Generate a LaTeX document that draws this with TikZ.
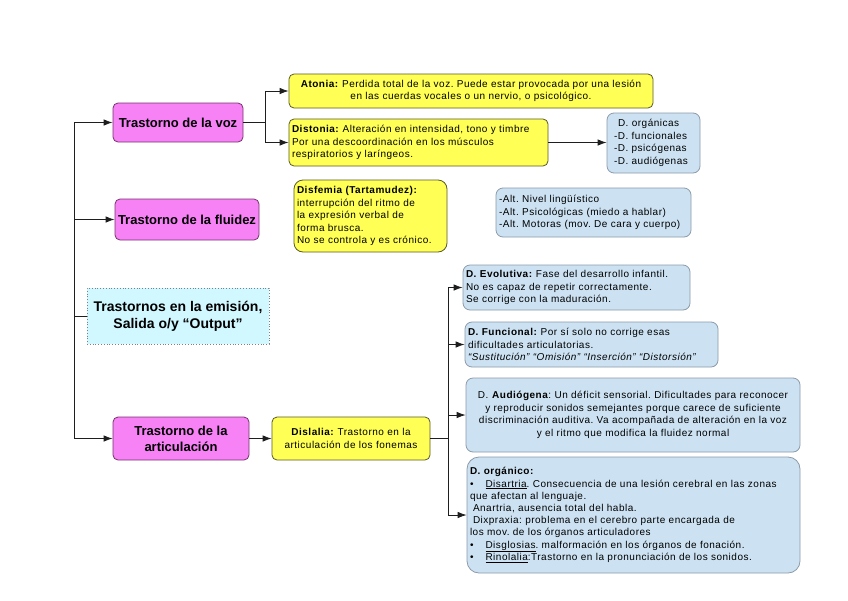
\documentclass[tikz,border=0pt]{standalone}
\usepackage{fontspec}
\setmainfont{Liberation Sans}
\newfontfamily\bodyfont[LetterSpace=5]{Liberation Sans}
\usetikzlibrary{arrows.meta}
\frenchspacing
\definecolor{pinkfill}{RGB}{246,130,246}
\definecolor{pinkdraw}{RGB}{120,50,110}
\definecolor{yelfill}{RGB}{255,255,85}
\definecolor{yeldraw}{RGB}{90,90,40}
\definecolor{bluefill}{RGB}{204,226,242}
\definecolor{bluedraw}{RGB}{140,155,170}
\definecolor{outfill}{RGB}{210,248,255}
\definecolor{outdraw}{RGB}{120,130,140}
\definecolor{linecol}{RGB}{30,30,30}
\tikzset{
  base/.style={rounded corners=5pt, line width=0.8pt, inner sep=3pt, font=\bodyfont\fontsize{10}{12.5}\selectfont},
  pinkbox/.style={base, draw=pinkdraw, fill=pinkfill, align=center, font=\bfseries\fontsize{13}{16}\selectfont},
  yellowbox/.style={base, draw=yeldraw, fill=yelfill},
  bluebox/.style={base, draw=bluedraw, fill=bluefill, rounded corners=7pt},
  outbox/.style={draw=outdraw, dotted, line width=0.8pt, fill=outfill, inner sep=2pt, align=center, font=\bfseries\fontsize{14}{17}\selectfont},
  arr/.style={-{Latex[length=9pt,width=6.5pt]}, line width=0.8pt, draw=linecol},
  ln/.style={line width=0.8pt, draw=linecol},
  box/.style n args={2}{minimum width=#1, minimum height=#2, text width=#1-6pt},
  sbox/.style n args={2}{minimum width=#1, minimum height=#2}
}
\begin{document}
\begin{tikzpicture}[x=1pt,y=-1pt]
\useasboundingbox (0,0) rectangle (848,600);
\fill[white] (0,0) rectangle (848,600);

% left column
\node[pinkbox, sbox={130pt}{39pt}] (voz) at (178,122.5) {Trastorno de la voz};
\node[pinkbox, sbox={144pt}{41pt}, inner sep=1pt] (flu) at (187,219.5) {Trastorno de la fluidez};
\node[outbox, sbox={182pt}{56pt}] (out) at (178,316) {Trastornos en la emisión,\\Salida o/y “Output”};
\node[pinkbox, sbox={136pt}{43pt}] (art) at (181,438.5) {Trastorno de la\\articulación};

% voz branch
\node[yellowbox, box={364pt}{34pt}, align=center] (atonia) at (471,91)
  {\textbf{Atonia:} Perdida total de la voz. Puede estar provocada por una lesión\\en las cuerdas vocales o un nervio, o psicológico.};
\node[yellowbox, box={259pt}{47pt}, align=left] (distonia) at (418.5,142.5)
  {\textbf{Distonia:} Alteración en intensidad, tono y timbre\\Por una descoordinación en los músculos\\respiratorios y laríngeos.};
\node[bluebox, box={93pt}{60pt}, align=left] (orgs) at (653.5,143)
  {\hspace{8pt}D. orgánicas\\\hspace{4pt}-D. funcionales\\\hspace{4pt}-D. psicógenas\\\hspace{4pt}-D. audiógenas};

% fluidez
\node[yellowbox, rounded corners=9pt, box={153pt}{72pt}, align=left] (disfemia) at (370.5,216)
  {\textbf{Disfemia (Tartamudez):}\\interrupción del ritmo de\\la expresión verbal de\\forma brusca.\\No se controla y es crónico.};
\node[bluebox, box={195pt}{49pt}, align=left] (alt) at (593.5,212.5)
  {-Alt. Nivel lingüístico\\-Alt. Psicológicas (miedo a hablar)\\-Alt. Motoras (mov. De cara y cuerpo)};

% articulacion
\node[yellowbox, box={158pt}{43pt}, align=center] (dislalia) at (351,438.5)
  {\textbf{Dislalia:} Trastorno en la\\articulación de los fonemas};
\node[bluebox, box={227pt}{45pt}, align=left] (evol) at (576.5,287.5)
  {\textbf{D. Evolutiva:} Fase del desarrollo infantil.\\No es capaz de repetir correctamente.\\Se corrige con la maduración.};
\node[bluebox, box={253pt}{45pt}, align=left] (func) at (591.5,344.5)
  {\textbf{D. Funcional:} Por sí solo no corrige esas\\dificultades articulatorias.\\\textit{“Sustitución” “Omisión” “Inserción” “Distorsión”}};
\node[bluebox, box={334pt}{74pt}, align=center] (audio) at (633,415)
  {D. \textbf{Audiógena}: Un déficit sensorial. Dificultades para reconocer\\y reproducir sonidos semejantes porque carece de suficiente\\discriminación auditiva. Va acompañada de alteración en la voz\\y el ritmo que modifica la fluidez normal};
\node[bluebox, rounded corners=12pt, box={333pt}{116pt}, align=left, font=\bodyfont\fontsize{10}{12.2}\selectfont] (organico) at (633.5,515)
  {\textbf{D. orgánico:}\\
   •\hspace{12pt}\underline{Disartria}. Consecuencia de una lesión cerebral en las zonas\\
   que afectan al lenguaje.\\
   \hspace{3pt}Anartria, ausencia total del habla.\\
   \hspace{3pt}Dixpraxia: problema en el cerebro parte encargada de\\
   los mov. de los órganos articuladores\\
   •\hspace{12pt}\underline{Disglosias}. malformación en los órganos de fonación.\\
   •\hspace{12pt}\underline{Rinolalia}:Trastorno en la pronunciación de los sonidos.};

% trunk
\coordinate (tTop) at (74,122);
\coordinate (tBot) at (74,438);
\draw[ln] (tTop) -- (tBot);
\draw[arr] (tTop |- voz.west) -- (voz.west);
\draw[arr] (tTop |- flu.west) -- (flu.west);
\draw[ln] (tTop |- out.west) -- (out.west);
\draw[arr] (tTop |- art.west) -- (art.west);

% voz split
\coordinate (vs) at (265,122.5);
\draw[ln] (voz.east) -- (vs);
\draw[arr] (vs) |- (atonia.west);
\draw[arr] (vs) |- (distonia.west);
\draw[arr] (distonia.east) -- (distonia.east -| orgs.west);

% articulacion
\draw[arr] (art.east) -- (dislalia.west);
\coordinate (ds) at (448,438.5);
\draw[ln] (dislalia.east) -- (ds);
\draw[arr] (ds) |- (evol.west);
\draw[arr] (ds) |- (func.west);
\draw[arr] (ds) |- (audio.west);
\draw[arr] (ds) |- (organico.west);
\end{tikzpicture}
\end{document}
